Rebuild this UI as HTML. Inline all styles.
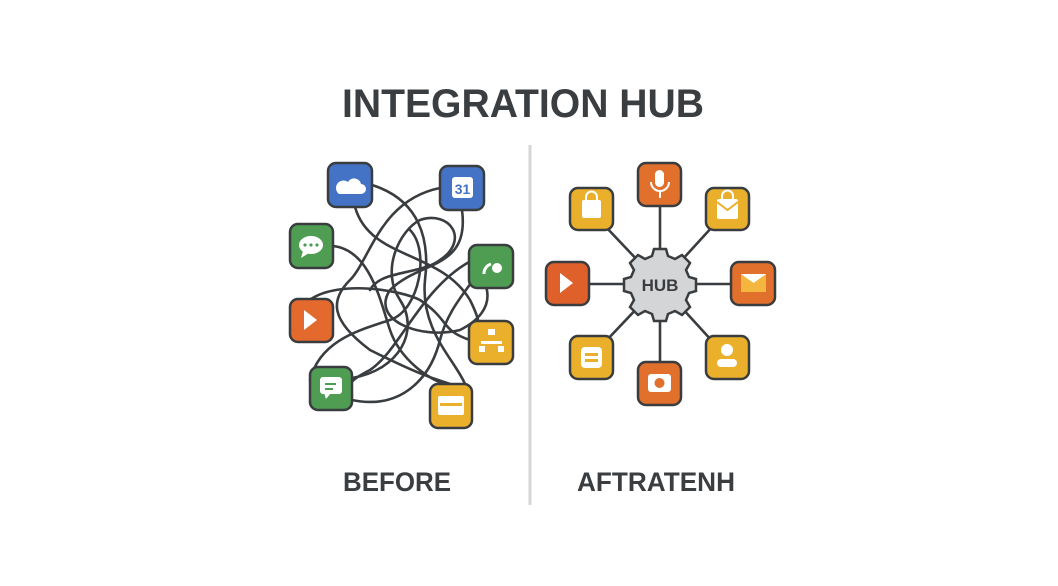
<!DOCTYPE html>
<html><head><meta charset="utf-8"><style>html,body{margin:0;padding:0;background:#fff}svg{display:block}</style></head>
<body>
<svg width="1058" height="586" viewBox="0 0 1058 586" xmlns="http://www.w3.org/2000/svg" font-family="Liberation Sans, sans-serif">
<rect width="1058" height="586" fill="#fff"/>
<text x="342" y="117" font-size="40" font-weight="bold" fill="#3b3e41" textLength="362" lengthAdjust="spacingAndGlyphs">INTEGRATION HUB</text>
<line x1="530" y1="145" x2="530" y2="505" stroke="#d6d6d6" stroke-width="3"/>
<text x="343" y="491" font-size="27" font-weight="bold" fill="#3b3e41" textLength="108" lengthAdjust="spacingAndGlyphs">BEFORE</text>
<text x="577" y="491" font-size="27" font-weight="bold" fill="#3b3e41" textLength="158" lengthAdjust="spacingAndGlyphs">AFTRATENH</text>

<g fill="none" stroke="#3a3d40" stroke-width="2.6" stroke-linecap="round">
<path d="M372 185 C420 200 430 240 425 280 C420 330 455 360 465 384"/>
<path d="M355 207 C370 260 440 250 470 300 C490 340 470 330 470 345"/>
<path d="M440 188 C380 200 370 260 350 280 C330 300 330 320 370 350 C430 380 440 380 450 384"/>
<path d="M462 210 C470 270 420 260 390 290 C370 320 420 340 460 330 C500 310 490 280 470 266"/>
<path d="M333 246 C370 250 380 300 390 330 C400 360 430 380 445 384"/>
<path d="M311 299 C340 280 400 290 420 300 C450 320 440 330 470 340"/>
<path d="M469 262 C420 290 400 350 370 370 C340 385 350 390 352 395"/>
<path d="M352 378 C400 370 420 330 400 300 C380 270 400 230 420 220 C450 210 470 240 440 260 C420 275 380 270 370 290"/>
<path d="M310 380 C320 340 360 330 390 320 C420 310 430 250 410 230"/>
<path d="M352 400 C400 410 430 380 440 340 C450 300 480 280 490 250"/>
</g>

<g stroke="#3a3d40" stroke-width="2.5">
<rect x="328" y="163" width="44" height="44" rx="8" fill="#4472c4"/>
<rect x="440" y="166" width="44" height="44" rx="8" fill="#4472c4"/>
<rect x="290" y="224" width="43" height="44" rx="8" fill="#4f9d53"/>
<rect x="469" y="245" width="44" height="43" rx="8" fill="#4f9d53"/>
<rect x="290" y="299" width="43" height="43" rx="8" fill="#e36a2c"/>
<rect x="469" y="321" width="44" height="43" rx="8" fill="#eab02c"/>
<rect x="310" y="367" width="42" height="43" rx="8" fill="#4f9d53"/>
<rect x="430" y="384" width="42" height="44" rx="8" fill="#eab02c"/>
</g>
<g fill="#fff">
<path d="M339 194 h22 a5 5 0 0 0 0 -10 a7 7 0 0 0 -13 -2 a5 5 0 0 0 -9 12z"/>
<rect x="452" y="177" width="21" height="21" rx="3"/>
<text x="462.5" y="194" font-size="14" font-weight="bold" fill="#4472c4" text-anchor="middle">31</text>
<ellipse cx="311" cy="245" rx="12" ry="9"/><path d="M303 251 l-2 7 l8 -5z"/>
<path d="M484 274 a10 10 0 0 1 7 -10" stroke="#fff" stroke-width="3" fill="none"/><circle cx="497" cy="268" r="5"/>
<path d="M304 310 l13 10 l-13 10z"/>
<rect x="488" y="329" width="7" height="6"/><rect x="481" y="341" width="21" height="3"/><rect x="479" y="346" width="6" height="6"/><rect x="498" y="346" width="6" height="6"/>
<rect x="320" y="377" width="22" height="17" rx="3"/><path d="M324 393 l2 6 l5 -6z"/>
<rect x="438" y="396" width="26" height="19" rx="2"/>
</g>
<g fill="#4f9d53"><circle cx="305" cy="245" r="1.6"/><circle cx="311" cy="245" r="1.6"/><circle cx="317" cy="245" r="1.6"/><rect x="325" y="383" width="11" height="2"/><rect x="325" y="388" width="8" height="2"/></g>
<rect x="440" y="403" width="22" height="3" fill="#eab02c"/>

<g stroke="#3a3d40" stroke-width="2.6">
<line x1="660" y1="284" x2="660" y2="206"/><line x1="660" y1="284" x2="660" y2="362"/>
<line x1="660" y1="284" x2="589" y2="284"/><line x1="660" y1="284" x2="731" y2="284"/>
<line x1="660" y1="284" x2="605" y2="226"/><line x1="660" y1="284" x2="713" y2="226"/>
<line x1="660" y1="284" x2="605" y2="342"/><line x1="660" y1="284" x2="713" y2="342"/>
</g>
<g transform="translate(660 284)" stroke="#3a3d40" stroke-width="2.5" fill="#d4d5d6">
<path d="M-6 -35 h12 l2 7 l7 3 l7 -4 l8 8 l-4 7 l3 7 l7 2 v12 l-7 2 l-3 7 l4 7 l-8 8 l-7 -4 l-7 3 l-2 7 h-12 l-2 -7 l-7 -3 l-7 4 l-8 -8 l4 -7 l-3 -7 l-7 -2 v-12 l7 -2 l3 -7 l-4 -7 l8 -8 l7 4 l7 -3z"/>
</g>
<text x="660" y="291" font-size="17" font-weight="bold" fill="#3a3d40" text-anchor="middle">HUB</text>

<g stroke="#3a3d40" stroke-width="2.5">
<rect x="638" y="163" width="43" height="43" rx="8" fill="#e0702c"/>
<rect x="570" y="188" width="43" height="42" rx="8" fill="#eab02c"/>
<rect x="706" y="188" width="43" height="42" rx="8" fill="#eab02c"/>
<rect x="546" y="262" width="43" height="43" rx="8" fill="#e0602c"/>
<rect x="731" y="262" width="44" height="43" rx="8" fill="#e0702c"/>
<rect x="570" y="336" width="43" height="43" rx="8" fill="#eab02c"/>
<rect x="706" y="336" width="43" height="43" rx="8" fill="#eab02c"/>
<rect x="638" y="362" width="43" height="43" rx="8" fill="#e0702c"/>
</g>
<g fill="#fff">
<rect x="655" y="170" width="9" height="17" rx="4.5"/><path d="M651 182 a9 9 0 0 0 18 0" stroke="#fff" stroke-width="2" fill="none"/><rect x="659" y="190" width="2" height="8"/>
<rect x="582" y="200" width="19" height="18" rx="2"/><path d="M586 201 v-4 a5 5 0 0 1 11 0 v4" stroke="#fff" stroke-width="2" fill="none"/>
<rect x="717" y="199" width="21" height="20" rx="2"/><path d="M717 202 l10.5 8 l10.5 -8" stroke="#eab02c" stroke-width="2" fill="none"/><path d="M722 199 v-3 a5 5 0 0 1 11 0 v3" stroke="#fff" stroke-width="2" fill="none"/>
<path d="M560 273 l13 10 l-13 10z"/>
<rect x="741" y="274" width="25" height="18" fill="#f4b63f"/><path d="M741 274 l12.5 9 l12.5 -9z"/>
<rect x="581" y="347" width="21" height="21" rx="4"/>
<circle cx="727" cy="350" r="6"/><rect x="717" y="359" width="20" height="8" rx="4"/>
<rect x="648" y="374" width="23" height="18" rx="3"/>
</g>
<g fill="#eab02c"><rect x="585" y="353" width="13" height="3"/><rect x="585" y="359" width="13" height="3"/></g>
<circle cx="659.5" cy="383" r="5" fill="#e0702c"/>
</svg>
</body></html>
